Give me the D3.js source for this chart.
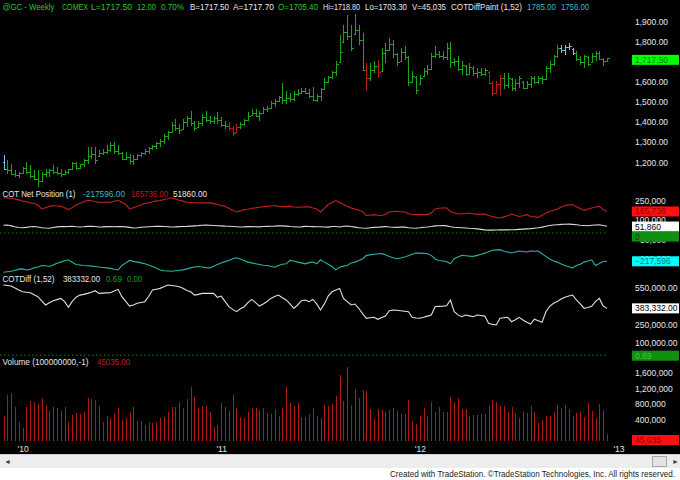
<!DOCTYPE html>
<html><head><meta charset="utf-8">
<script src="https://cdn.jsdelivr.net/npm/d3@7"></script>
<style>
html,body{margin:0;padding:0;background:#fff;}
svg{display:block;font-family:"Liberation Sans",Arial,sans-serif;}
</style></head><body>
<svg id="c" width="680" height="480"></svg>
<script>
// ---------- DATA (weekly bars, first week ending 2009-12-04) ----------
const firstWeek = "2009-12-04";
const high = [
1235,1210,1194,1161,1152,1177,1202,1185,1161,1161,
1152,1169,1169,1185,1177,1169,1161,1169,1202,1202,
1194,1218,1276,1276,1276,1259,1267,1284,1300,1300,
1284,1251,1251,1243,1235,1243,1251,1267,1276,1284,
1300,1317,1341,1358,1399,1415,1391,1415,1432,1456,
1407,1407,1440,1456,1432,1432,1448,1424,1407,1399,
1382,1391,1399,1415,1448,1465,1465,1456,1473,1481,
1506,1514,1530,1596,1555,1547,1555,1563,1571,1571,
1563,1575,1539,1571,1621,1629,1654,1703,1834,1884,
1933,1884,1936,1884,1843,1695,1695,1703,1711,1769,
1793,1818,1810,1744,1769,1777,1727,1654,1629,1637,
1670,1686,1744,1777,1755,1752,1793,1801,1719,1727,
1703,1686,1695,1678,1670,1670,1670,1654,1604,1604,
1637,1645,1645,1621,1613,1629,1604,1604,1629,1629,
1629,1629,1678,1703,1736,1785,1785,1785,1793,1769,
1752,1727,1736,1727,1744,1752,1752,1719,1718.8];
const low = [
1161,1144,1136,1128,1120,1144,1144,1120,1111,1078,
1103,1128,1128,1144,1136,1128,1136,1144,1161,1161,
1169,1177,1194,1218,1194,1226,1235,1243,1251,1243,
1235,1210,1210,1194,1185,1210,1226,1235,1243,1259,
1267,1276,1292,1309,1350,1358,1341,1366,1374,1382,
1358,1374,1382,1399,1391,1391,1391,1374,1366,1358,
1333,1350,1366,1382,1407,1432,1424,1407,1440,1448,
1465,1473,1498,1489,1489,1498,1506,1530,1539,1539,
1522,1506,1498,1506,1563,1596,1613,1629,1695,1793,
1810,1752,1834,1785,1654,1555,1604,1645,1621,1654,
1695,1752,1719,1678,1703,1711,1580,1596,1539,1588,
1629,1637,1662,1719,1719,1711,1711,1670,1678,1654,
1637,1629,1637,1629,1621,1629,1629,1588,1530,1539,
1530,1563,1571,1555,1555,1571,1563,1563,1571,1588,
1588,1588,1612,1645,1678,1719,1744,1736,1760,1736,
1703,1686,1670,1678,1695,1703,1711,1678,1703.3];
const open = [
1200,1165,1160,1140,1135,1145,1170,1150,1130,1115,
1105,1140,1150,1160,1150,1145,1140,1150,1165,1195,
1170,1190,1210,1230,1240,1230,1245,1250,1260,1285,
1255,1245,1215,1225,1205,1215,1235,1245,1255,1270,
1280,1295,1305,1330,1350,1385,1370,1368,1400,1420,
1395,1375,1395,1425,1410,1405,1420,1410,1385,1380,
1370,1350,1375,1390,1410,1435,1445,1430,1445,1465,
1470,1495,1505,1525,1510,1520,1515,1540,1545,1555,
1545,1530,1510,1530,1565,1600,1625,1650,1700,1800,
1850,1830,1840,1860,1810,1660,1620,1660,1680,1655,
1745,1760,1790,1740,1705,1750,1725,1600,1625,1590,
1630,1655,1665,1730,1740,1730,1725,1770,1700,1705,
1665,1680,1640,1670,1645,1650,1640,1650,1595,1545,
1590,1620,1585,1615,1570,1595,1600,1570,1590,1620,
1600,1620,1615,1670,1690,1730,1770,1760,1775,1765,
1745,1715,1700,1725,1700,1730,1745,1715,1705.4];
const close = [
1165,1160,1140,1135,1145,1170,1150,1130,1115,1105,
1140,1150,1160,1150,1145,1140,1150,1165,1195,1170,
1190,1210,1230,1240,1210,1245,1250,1260,1285,1255,
1245,1215,1225,1205,1215,1235,1245,1255,1270,1280,
1295,1305,1330,1350,1385,1370,1360,1400,1420,1395,
1370,1395,1425,1410,1405,1420,1410,1385,1380,1370,
1345,1375,1390,1410,1430,1445,1430,1445,1465,1470,
1495,1505,1525,1510,1520,1515,1540,1545,1555,1545,
1530,1510,1530,1565,1600,1625,1650,1690,1750,1850,
1830,1770,1860,1810,1660,1620,1660,1680,1650,1745,
1760,1790,1740,1700,1750,1725,1600,1630,1560,1620,
1655,1665,1730,1740,1730,1725,1770,1700,1705,1665,
1685,1640,1675,1645,1650,1640,1660,1595,1545,1590,
1620,1585,1620,1570,1595,1620,1570,1590,1620,1600,
1620,1615,1670,1690,1730,1770,1760,1775,1780,1745,
1715,1700,1730,1690,1730,1745,1715,1705,1717.5];
// COTDiffPaint colouring: bar indexes painted red / cyan (others green)
const redBars = [59,60,61,95,98,127,128,129,130];
const cyanBars = [0,146,147,148,149];
// COT Net Position (thousands of contracts)
const cotRed = [
271,270,266,262,255,245,240,232,227,215,
185,195,205,211,208,205,195,180,195,215,
227,240,252,248,242,237,236,238,237,244,
252,236,219,185,195,205,215,227,232,240,
245,250,258,264,271,262,252,245,237,235,
233,232,232,232,232,226,219,212,205,190,
175,162,170,180,183,190,193,198,202,205,
208,211,206,201,203,205,200,198,200,201,
201,192,185,162,190,219,235,250,235,219,
205,193,185,175,166,133,138,141,136,133,
145,162,165,166,164,162,150,141,141,142,
141,141,154,185,190,192,193,166,155,146,
146,150,154,148,143,145,146,135,127,120,
115,124,133,146,137,127,133,141,127,124,
120,137,154,165,175,185,200,211,216,219,
201,188,174,185,193,200,205,180,165.736];
const cotWhite = [
60,62,55,48,42,40,43,48,50,46,
40,38,37,42,47,50,49,50,52,48,
46,48,51,52,50,46,47,49,50,48,
49,50,47,43,38,40,44,46,48,50,
52,51,50,48,46,47,49,50,51,53,
55,57,60,62,60,58,56,55,53,52,
50,48,46,47,49,50,48,47,50,51,
52,53,56,55,53,50,48,46,47,52,
50,49,48,48,46,45,50,50,46,52,
54,50,45,40,38,37,40,43,44,47,
50,46,44,43,46,45,40,38,37,40,
44,46,50,55,56,58,55,48,44,42,
40,38,36,35,32,28,24,22,22,23,
24,25,24,25,26,28,30,32,34,37,
40,45,52,58,62,64,66,67,68,66,
64,60,58,56,60,62,64,58,51.86];
const cotCyan = [
-302,-298,-294,-288,-278,-276,-284,-280,-268,-262,
-250,-252,-258,-246,-232,-224,-214,-206,-225,-242,
-246,-250,-252,-255,-258,-262,-265,-268,-272,-279,
-284,-250,-230,-211,-218,-224,-230,-237,-246,-258,
-270,-284,-290,-292,-294,-290,-286,-284,-276,-268,
-262,-258,-262,-266,-268,-256,-242,-230,-220,-211,
-198,-190,-200,-211,-224,-230,-237,-242,-248,-250,
-256,-263,-250,-240,-237,-211,-216,-224,-230,-237,
-228,-224,-237,-206,-224,-240,-258,-284,-263,-255,
-250,-230,-224,-211,-200,-172,-168,-164,-160,-159,
-168,-180,-190,-198,-192,-185,-175,-164,-154,-155,
-157,-159,-172,-200,-211,-215,-219,-237,-198,-185,
-172,-175,-178,-180,-172,-164,-155,-145,-133,-130,
-128,-140,-146,-154,-146,-138,-142,-146,-138,-140,
-138,-160,-180,-200,-215,-224,-238,-250,-260,-268,
-250,-240,-224,-215,-206,-250,-235,-219,-217.596];
// COTDiff (1,52) (thousands)
const cotDiff = [
574,570,566,550,533,519,515,511,495,479,
445,411,430,446,455,465,438,392,440,475,
492,498,506,515,528,506,508,510,511,525,
539,479,440,402,410,425,432,438,480,533,
540,547,560,574,570,566,560,547,530,519,
492,498,506,506,506,506,474,484,440,397,
375,356,380,397,430,457,430,402,419,440,
465,480,492,470,452,420,384,411,446,452,
438,457,420,370,420,484,519,533,547,465,
438,411,419,384,340,302,306,310,294,308,
320,364,370,368,364,360,356,310,305,302,
310,320,329,397,400,402,405,452,356,330,
315,329,322,315,329,325,320,261,252,247,
302,306,310,274,290,310,288,270,255,294,
282,270,356,400,425,440,460,474,485,492,
452,420,384,390,400,440,465,402,383.332];
// Volume (thousands of contracts)
const volume = [
512,1038,1080,741,360,207,741,885,851,800,
970,767,631,741,716,631,741,343,529,572,
546,597,953,936,911,767,343,512,444,546,
716,402,461,597,741,377,377,275,360,317,
343,461,487,597,741,741,851,716,936,1233,
996,699,767,767,597,232,275,826,741,631,
1038,699,487,461,597,716,716,656,716,572,
546,682,512,716,1233,826,767,826,487,487,
546,699,512,461,784,767,800,1021,1547,885,
1733,784,1191,970,1165,1148,682,427,682,656,
614,656,699,631,546,546,911,377,292,512,
699,512,851,597,741,597,597,996,868,953,
682,682,512,529,529,546,546,767,911,868,
767,767,597,741,572,461,614,572,767,597,
317,402,512,512,597,784,716,784,682,512,
572,597,487,826,631,461,800,656,45.035];
const priceTicks = [1200,1300,1400,1500,1600,1800,1900];
const cotTicks = [250000,100000,-50000,-200000];
const diffTicks = [550000,250000,100000];
const volTicks = [400000,800000,1200000,1600000];
const yearTicks = ["2010-01-08","2011-01-07","2012-01-06","2013-01-04"];
const lastPrice = 1717.5;

// ---------- CHART ----------
const svg = d3.select("#c");
const N = close.length;
const parse = d3.timeParse("%Y-%m-%d");
const d0 = parse(firstWeek);
const dates = d3.range(N).map(i => d3.timeDay.offset(d0, 7*i));
const x = d3.scaleTime().domain([dates[0], dates[N-1]]).range([3.5, 607]);
const xs = i => Math.round(x(dates[i])) + 0.5;

const yP = d3.scaleLinear().domain([1200,1900]).range([162.3,21.7]);
const yC = d3.scaleLinear().domain([0,250000]).range([233,200.5]);
const yD = d3.scaleLinear().domain([0,550000]).range([355.2,288]);
const yV = d3.scaleLinear().domain([0,1600000]).range([435.8,372.7]);
const volBase = 440.5;

const GREEN="#1ca51c", RED="#bb1a1a", CYANBAR="#6cc8e6";
const TXT="#e6e6e6";

svg.append("rect").attr("width",680).attr("height",454).attr("fill","#000");

// price bars
const colorOf = i => redBars.includes(i) ? RED : (cyanBars.includes(i) ? CYANBAR : GREEN);
const pb = svg.append("g").attr("shape-rendering","crispEdges").attr("stroke-width",1);
d3.range(N).forEach(i=>{
  const g = pb.append("g").attr("stroke", colorOf(i));
  const cx = xs(i);
  g.append("line").attr("x1",cx).attr("x2",cx).attr("y1",yP(high[i])).attr("y2",yP(low[i]));
  g.append("line").attr("x1",cx-1.5).attr("x2",cx).attr("y1",Math.round(yP(open[i]))+0.5).attr("y2",Math.round(yP(open[i]))+0.5);
  g.append("line").attr("x1",cx).attr("x2",cx+2).attr("y1",Math.round(yP(close[i]))+0.5).attr("y2",Math.round(yP(close[i]))+0.5);
});

// COT lines
const lineOf = (arr, ys, k) => d3.line().x((d,i)=>x(dates[i])).y(d=>ys(d*k))(arr);
svg.append("path").attr("d",lineOf(cotRed,yC,1000)).attr("fill","none").attr("stroke","#c42020").attr("stroke-width",1.1);
svg.append("path").attr("d",lineOf(cotWhite,yC,1000)).attr("fill","none").attr("stroke","#d8d8d8").attr("stroke-width",1.1);
svg.append("path").attr("d",lineOf(cotCyan,yC,1000)).attr("fill","none").attr("stroke","#2bb3a8").attr("stroke-width",1.1);
// zero lines
svg.append("line").attr("x1",0).attr("x2",607).attr("y1",yC(0)).attr("y2",yC(0)).attr("stroke","#0a8a0a").attr("stroke-dasharray","1.5,2.5");
svg.append("path").attr("d",lineOf(cotDiff,yD,1000)).attr("fill","none").attr("stroke","#e0e0e0").attr("stroke-width",1.1);
svg.append("line").attr("x1",0).attr("x2",607).attr("y1",yD(0)).attr("y2",yD(0)).attr("stroke","#0a8a0a").attr("stroke-dasharray","1.5,2.5");

// volume
svg.append("g").attr("shape-rendering","crispEdges").selectAll("rect").data(volume).join("rect")
  .attr("x",(d,i)=>Math.round(x(dates[i]))-0.5).attr("width",1.6)
  .attr("y",d=>yV(d*1000)).attr("height",d=>Math.max(0,volBase-yV(d*1000)))
  .attr("fill","#b01818");

// right axes
function rAxis(scale, ticks, fmt){
  const g = svg.append("g").attr("transform","translate(635,0)")
    .call(d3.axisRight(scale).tickValues(ticks).tickFormat(fmt).tickSize(0).tickPadding(0));
  g.select(".domain").remove();
  g.selectAll("text").attr("fill",TXT).attr("font-size",8.5).attr("font-family","Liberation Sans, Arial, sans-serif");
}
rAxis(yP, priceTicks, d3.format(",.2f"));
rAxis(yC, cotTicks, d3.format(","));
rAxis(yD, diffTicks, d3.format(",.2f"));
rAxis(yV, volTicks, d3.format(","));

function box(cy, label, fill, tcol){
  svg.append("rect").attr("x",632).attr("y",cy-5).attr("width",47).attr("height",10).attr("fill",fill);
  svg.append("text").attr("x",635).attr("y",cy+3).attr("font-size",8.5).attr("fill",tcol).text(label);
}
box(yP(lastPrice)+1.5, d3.format(",.2f")(lastPrice), "#00ff00", "#007a00");
box(yC(cotRed[N-1]*1000), d3.format(",")(Math.round(cotRed[N-1]*1000)), "#ff1010", "#900000");
box(yC(cotWhite[N-1]*1000)+0.3, d3.format(",")(Math.round(cotWhite[N-1]*1000)), "#ffffff", "#000");
box(yC(cotWhite[N-1]*1000)+10.3, "0", "#109010", "#063a06");
box(yC(cotCyan[N-1]*1000), d3.format(",")(Math.round(cotCyan[N-1]*1000)), "#00ffff", "#007878");
box(yD(cotDiff[N-1]*1000), d3.format(",.2f")(cotDiff[N-1]*1000), "#ffffff", "#000");
box(yD(0)+0.5, "0.69", "#109010", "#48c048");
box(440, d3.format(",")(Math.round(volume[N-1]*1000)), "#ff1010", "#900000");

// x axis (year labels)
const xa = svg.append("g").attr("transform","translate(0,446)")
  .call(d3.axisBottom(x).tickValues(yearTicks.map(parse)).tickFormat(d3.timeFormat("'%y")).tickSize(0).tickPadding(0));
xa.select(".domain").remove();
xa.selectAll("text").attr("fill",TXT).attr("font-size",8.5).attr("font-family","Liberation Sans, Arial, sans-serif");

// legends / header
function tokens(y, list){
  list.forEach(([t, x0, w, col])=>{
    svg.append("text").attr("x",x0).attr("y",y).attr("font-size",8.5).attr("fill",col)
      .attr("textLength",w).attr("lengthAdjust","spacingAndGlyphs").text(t);
  });
}
const G="#2ec42e", W="#e8e8e8", C="#3fb6c4", R="#c41a1a", DG="#1f9a1f";
tokens(10, [["@GC - Weekly",2.5,52,G],["COMEX",62,26,G],["L=1717.50",91,41,G],["12.00",137,19,G],["0.70%",161,23,G],
  ["B=1717.50",190,39,W],["A=1717.70",233,41,W],["O=1705.40",278,40,G],["Hi=1718.80",323,37,W],["Lo=1703.30",365,42,W],
  ["V=45,035",412,34,W],["COTDiffPaint (1,52)",451,71,W],["1785.00",527,29,C],["1756.00",561,28,C]]);
tokens(197, [["COT Net Position (1)",2.5,73,W],["-217596.00",83,42,C],["165736.00",131,37,R],["51860.00",173,34,W]]);
tokens(282, [["COTDiff (1,52)",2.5,52,W],["383332.00",63,37,W],["0.69",106,16,DG],["0.00",127,15,DG]]);
tokens(365, [["Volume (100000000,-1)",2.5,86,W],["45035.00",97,33,R]]);

// bottom scrollbar + copyright
svg.append("rect").attr("x",0).attr("y",454).attr("width",680).attr("height",14).attr("fill","#ededed");
svg.append("line").attr("x1",0).attr("x2",680).attr("y1",454.5).attr("y2",454.5).attr("stroke","#d0d0d0");
svg.append("text").attr("x",4).attr("y",464).attr("font-size",7).attr("fill","#404040").text("◄");
svg.append("rect").attr("x",652.5).attr("y",456.5).attr("width",14).attr("height",10).attr("fill","#e4e4e4").attr("stroke","#a8a8a8");
svg.append("text").attr("x",672).attr("y",464).attr("font-size",7).attr("fill","#404040").text("►");
svg.append("rect").attr("x",0).attr("y",468).attr("width",680).attr("height",12).attr("fill","#fff");
svg.append("text").attr("x",390).attr("y",476.5).attr("font-size",8.3).attr("fill","#222")
  .attr("textLength",285).attr("lengthAdjust","spacingAndGlyphs")
  .text("Created with TradeStation. ©TradeStation Technologies, Inc. All rights reserved.");
</script>
</body></html>
